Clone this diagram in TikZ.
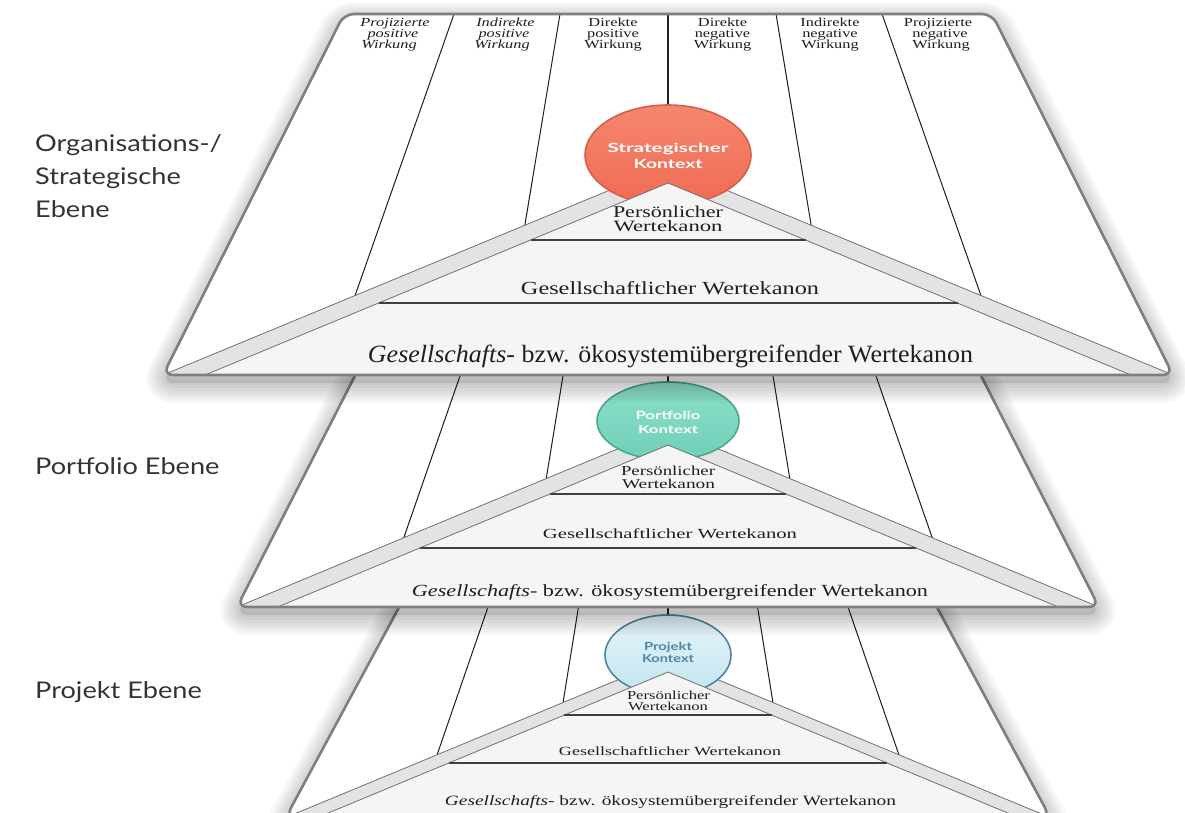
\documentclass[tikz,border=0pt]{standalone}
\usepackage{graphicx}
\usepackage{fontspec}
\setmainfont{Liberation Serif}
\newfontfamily\hdrfont[FakeStretch=1.33]{Liberation Serif}
\newfontfamily\labfont[FakeStretch=1.18]{Lato}
\newfontfamily\ctxfont{Lato}
\usetikzlibrary{shapes.geometric}
\definecolor{frm}{HTML}{7F7F7F}
\definecolor{bandfill}{HTML}{E3E3E3}
\definecolor{bandline}{HTML}{707070}
\definecolor{trifill}{HTML}{F5F5F5}
\definecolor{ink}{HTML}{1E1E1E}
\definecolor{redA}{HTML}{F6866F}
\definecolor{redB}{HTML}{F06B53}
\definecolor{redD}{HTML}{D4604A}
\definecolor{tealA}{HTML}{8DE0CB}
\definecolor{tealB}{HTML}{70CFB6}
\definecolor{tealD}{HTML}{4DA690}
\definecolor{blueA}{HTML}{E6F5FA}
\definecolor{blueB}{HTML}{C2E4EE}
\definecolor{blueD}{HTML}{4C86A2}
\definecolor{labc}{HTML}{333333}
\newcommand\fitx[3]{\resizebox{#1pt}{#2pt}{#3}}
\newcommand\softshadow[1]{%
  \foreach \w in {4,10,16,22,28,34,40}{\draw[line width=\w pt, black, opacity=0.03, line join=round, rounded corners=10pt, yshift=-8pt] #1;}
  \fill[black, opacity=0.10, rounded corners=10pt, yshift=-8pt] #1;}
\def\trapA{(344,14) -- (992,14) -- (1173,375) -- (163,375) -- cycle}
\def\trapB{(393.6,300) -- (942.4,300) -- (1099,607) -- (237,607) -- cycle}
\def\trapC{(435.3,540) -- (900.7,540) -- (1050,817) -- (286,817) -- cycle}
\begin{document}
\begin{tikzpicture}[x=1pt,y=-1pt,
  lvlframe/.style={draw=frm, line width=2.6pt, rounded corners=10pt, line join=round},
  lvlbody/.style={fill=white, rounded corners=10pt},
  divline/.style={draw=ink, line width=1pt},
  bandedge/.style={draw=bandline, line width=0.8pt, line join=round},
  sepline/.style={draw=ink!85, line width=1.2pt},
  txt/.style={anchor=base, inner sep=0pt, text=ink},
  ctx/.style={ellipse, inner sep=0pt, line width=1.6pt},
  ctxtxt/.style={anchor=base, inner sep=0pt, font=\ctxfont\bfseries},
  hdrtxt/.style={anchor=base, inner sep=0pt, text=ink, font=\hdrfont\fontsize{12.3}{13}\selectfont},
  labtxt/.style={anchor=base west, inner sep=0pt, text=labc, font=\labfont\fontsize{23}{26}\selectfont}]
\useasboundingbox (0,0) rectangle (1185,812);
\fill[white] (0,0) rectangle (1185,812);

% ================= Level 3 (Projekt) =================
\softshadow{\trapC}
\fill[lvlbody] \trapC;
\begin{scope}
  \clip[rounded corners=10pt] \trapC;
  \draw[divline] (511.1,540) -- (434.6,762);
  \draw[divline] (589.3,540) -- (562,709);
  \draw[divline] (746.7,540) -- (774,709);
  \draw[divline] (824.9,540) -- (901.4,762);
  \draw[divline, line width=1.6pt] (668,540) -- (668,625);
  \fill[bandfill] (287,817) -- (668,659) -- (1049,817) -- (1017.4,817) -- (668,672) -- (318.6,817) -- cycle;
  \draw[bandedge] (287,817) -- (668,659) -- (1049,817);
  \node[ctx, draw=blueD, top color=blueA, bottom color=blueB, minimum width=126pt, minimum height=80pt] (c3) at (668,655) {};
  \fill[trifill] (668,672) -- (1017.4,817) -- (318.6,817) -- cycle;
  \draw[bandedge] (318.6,817) -- (668,672) -- (1017.4,817);
  \draw[sepline] (564.4,715) -- (771.6,715);
  \draw[sepline] (449,763) -- (887,763);
\end{scope}
\node[ctxtxt, text=blueD] (p3a) at (668,650.7) {\fitx{48}{8.3}{Projekt}};
\node[ctxtxt, text=blueD] (p3b) at (668,662.3) {\fitx{52}{8}{Kontext}};
\node[txt] (t3a) at (668.5,699) {\fitx{83}{8.5}{Persönlicher}};
\node[txt] (t3b) at (668,710) {\fitx{80}{8.3}{Wertekanon}};
\node[txt] (t3c) at (670,755) {\fitx{222}{8.8}{Gesellschaftlicher Wertekanon}};
\node[txt] (t3d) at (670.5,805.7) {\fitx{451}{10}{\textit{Gesellschafts}- bzw. ökosystemübergreifender Wertekanon}};
\draw[lvlframe] \trapC;

% ================= Level 2 (Portfolio) =================
\softshadow{\trapB}
\fill[lvlbody] \trapB;
\begin{scope}
  \clip[rounded corners=10pt] \trapB;
  \draw[divline] (486.4,300) -- (400.9,546);
  \draw[divline] (575.4,300) -- (545,486);
  \draw[divline] (760.6,300) -- (791,486);
  \draw[divline] (849.6,300) -- (935.1,546);
  \draw[divline, line width=1.6pt] (668,300) -- (668,395);
  \fill[bandfill] (237,607) -- (668,428) -- (1099,607) -- (1058.4,607) -- (668,445) -- (277.6,607) -- cycle;
  \draw[bandedge] (237,607) -- (668,428) -- (1099,607);
  \node[ctx, draw=tealD, top color=tealA, bottom color=tealB, minimum width=142pt, minimum height=78pt] (c2) at (668,421) {};
  \fill[trifill] (668,445) -- (1058.4,607) -- (277.6,607) -- cycle;
  \draw[bandedge] (277.6,607) -- (668,445) -- (1058.4,607);
  \draw[sepline] (550,494) -- (786,494);
  \draw[sepline] (420,548) -- (916,548);
\end{scope}
\node[ctxtxt, text=white] (p2a) at (668,419.3) {\fitx{65}{8.4}{Portfolio}};
\node[ctxtxt, text=white] (p2b) at (668,433.3) {\fitx{60}{8}{Kontext}};
\node[txt] (t2a) at (668,475) {\fitx{94}{9.5}{Persönlicher}};
\node[txt] (t2b) at (668.5,488.3) {\fitx{93}{9.3}{Wertekanon}};
\node[txt] (t2c) at (670,538.3) {\fitx{254}{9.8}{Gesellschaftlicher Wertekanon}};
\node[txt] (t2d) at (670,596) {\fitx{516}{12}{\textit{Gesellschafts}- bzw. ökosystemübergreifender Wertekanon}};
\draw[lvlframe] \trapB;

% ================= Level 1 (Strategisch) =================
\softshadow{\trapA}
\fill[lvlbody] \trapA;
\begin{scope}
  \clip[rounded corners=10pt] \trapA;
  \draw[divline] (454,14) -- (353.5,300);
  \draw[divline] (560,14) -- (523.7,232);
  \draw[divline] (776,14) -- (812.3,232);
  \draw[divline] (882,14) -- (982.5,300);
  \draw[divline, line width=1.8pt] (668,14) -- (668,115);
  \fill[bandfill] (163,375) -- (668,166) -- (1173,375) -- (1131,375) -- (668,183) -- (205,375) -- cycle;
  \draw[bandedge] (163,375) -- (668,166) -- (1173,375);
  \node[ctx, draw=redD, top color=redA, bottom color=redB, minimum width=166pt, minimum height=100pt] (c1) at (668,155) {};
  \fill[trifill] (668,183) -- (1131,375) -- (205,375) -- cycle;
  \draw[bandedge] (205,375) -- (668,183) -- (1131,375);
  \draw[sepline] (530.5,240) -- (805.5,240);
  \draw[sepline] (378.5,303) -- (957.5,303);
\end{scope}
\node[ctxtxt, text=white] (p1a) at (668,152.3) {\fitx{121}{9.4}{Strategischer}};
\node[ctxtxt, text=white] (p1b) at (668,168.3) {\fitx{69}{9.2}{Kontext}};
\node[txt] (t1a) at (668,217.7) {\fitx{110}{11.5}{Persönlicher}};
\node[txt] (t1b) at (668,231.7) {\fitx{109}{11}{Wertekanon}};
\node[txt] (t1c) at (670,294) {\fitx{298}{13}{Gesellschaftlicher Wertekanon}};
\node[txt] (t1d) at (670.5,362) {\fitx{605}{17.5}{\textit{Gesellschafts}- bzw. ökosystemübergreifender Wertekanon}};
\draw[lvlframe] \trapA;

% column headers
\node[hdrtxt] (h1a) at (395,26.7) {\itshape Projizierte};
\node[hdrtxt] (h1b) at (393,37.4) {\itshape positive};
\node[hdrtxt] (h1c) at (389,48) {\itshape Wirkung};
\node[hdrtxt] (h2a) at (505.5,26.7) {\itshape Indirekte};
\node[hdrtxt] (h2b) at (504,37.4) {\itshape positive};
\node[hdrtxt] (h2c) at (502,48) {\itshape Wirkung};
\node[hdrtxt] (h3a) at (613,26.7) {Direkte};
\node[hdrtxt] (h3b) at (613,37.4) {positive};
\node[hdrtxt] (h3c) at (613,48) {Wirkung};
\node[hdrtxt] (h4a) at (722.5,26.7) {Direkte};
\node[hdrtxt] (h4b) at (722.5,37.4) {negative};
\node[hdrtxt] (h4c) at (722.5,48) {Wirkung};
\node[hdrtxt] (h5a) at (830,26.7) {Indirekte};
\node[hdrtxt] (h5b) at (830,37.4) {negative};
\node[hdrtxt] (h5c) at (830,48) {Wirkung};
\node[hdrtxt] (h6a) at (938,26.7) {Projizierte};
\node[hdrtxt] (h6b) at (940,37.4) {negative};
\node[hdrtxt] (h6c) at (941,48) {Wirkung};

% level labels
\node[labtxt] (lo1) at (35,151.5) {Organisations-/};
\node[labtxt] (lo2) at (35,184.5) {Strategische};
\node[labtxt] (lo3) at (35,217.5) {Ebene};
\node[labtxt] (lpf) at (35,474.5) {Portfolio Ebene};
\node[labtxt] (lpj) at (35,698.5) {Projekt Ebene};
\end{tikzpicture}
\end{document}
